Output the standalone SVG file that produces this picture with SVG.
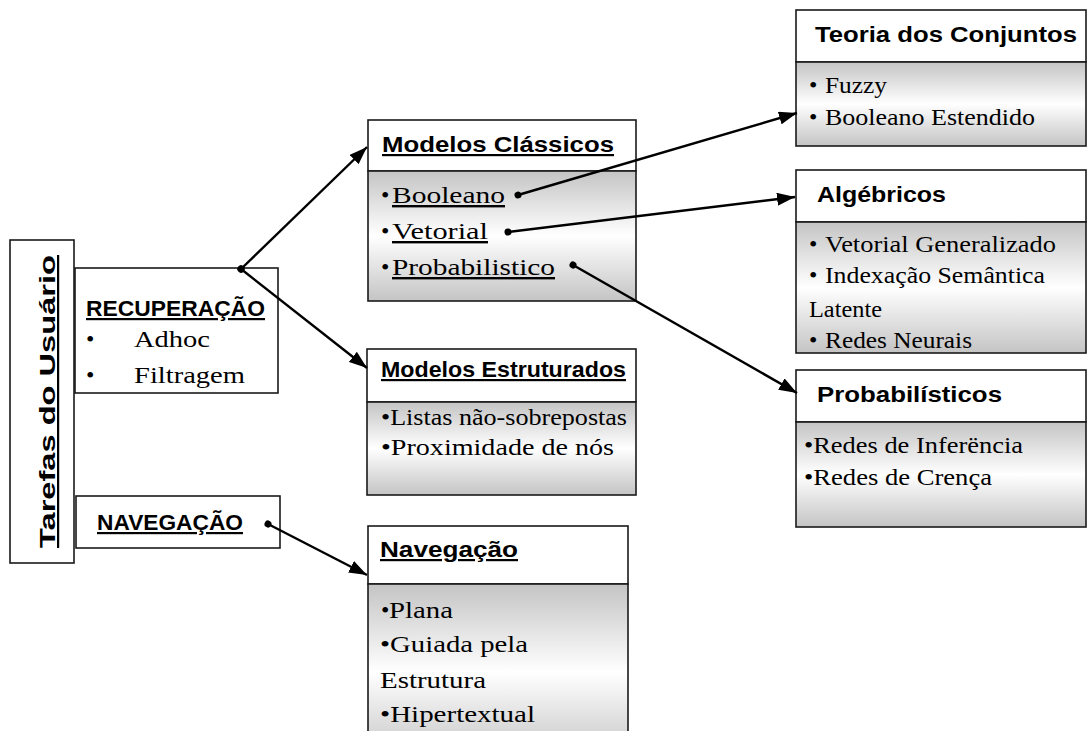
<svg xmlns="http://www.w3.org/2000/svg" width="1089" height="731" viewBox="0 0 1089 731">
  <defs>
    <linearGradient id="body" x1="0" y1="0" x2="0" y2="1">
      <stop offset="0" stop-color="#c4c4c4"/>
      <stop offset="0.5" stop-color="#ffffff"/>
      <stop offset="1" stop-color="#c4c4c4"/>
    </linearGradient>
    <marker id="arrow" markerUnits="userSpaceOnUse" markerWidth="19" markerHeight="13" refX="18" refY="6.5" orient="auto">
      <path d="M0,0 L18,6.5 L0,13 Z" fill="#000"/>
    </marker>
    <marker id="dot" markerUnits="userSpaceOnUse" markerWidth="8" markerHeight="8" refX="4" refY="4" orient="auto">
      <circle cx="4" cy="4" r="3.5" fill="#000"/>
    </marker>
  </defs>
  <style>
    .box { fill: #fff; stroke: #1a1a1a; stroke-width: 1.6; }
    .bodybox { fill: url(#body); stroke: #1a1a1a; stroke-width: 1.6; }
    .hd { font-family: "Liberation Sans", Arial, sans-serif; font-weight: bold; font-size: 22px; fill: #000; }
    .u { text-decoration: underline; }
    .tx { font-family: "Liberation Serif", "Times New Roman", serif; font-size: 24px; fill: #000; }
    .conn { stroke: #000; stroke-width: 2.4; fill: none; marker-start: url(#dot); marker-end: url(#arrow); }
  </style>
  <rect width="1089" height="731" fill="#fff"/>

  <g id="tarefas">
    <rect class="box" x="10" y="240" width="64" height="323"/>
    <text class="hd u" transform="translate(55,548) rotate(-90)" x="0" y="0" font-size="32" textLength="293" lengthAdjust="spacingAndGlyphs">Tarefas do Usuário</text>
  </g>

  <g id="recuperacao">
    <rect class="box" x="75" y="268" width="203" height="125"/>
    <text class="hd u" x="86" y="316" font-size="21" textLength="179" lengthAdjust="spacingAndGlyphs">RECUPERAÇÃO</text>
    <text class="tx" x="86" y="347" font-size="26">•</text>
    <text class="tx" x="134" y="347" textLength="76" lengthAdjust="spacingAndGlyphs">Adhoc</text>
    <text class="tx" x="86" y="383" font-size="26">•</text>
    <text class="tx" x="134" y="383" textLength="111" lengthAdjust="spacingAndGlyphs">Filtragem</text>
  </g>

  <g id="navegacao-tarefa">
    <rect class="box" x="76" y="496" width="204" height="52"/>
    <text class="hd u" x="97" y="530" font-size="21" textLength="146" lengthAdjust="spacingAndGlyphs">NAVEGAÇÃO</text>
  </g>

  <g id="modelos-classicos">
    <rect class="box" x="368" y="120" width="268" height="51"/>
    <rect class="bodybox" x="368" y="171" width="268" height="130"/>
    <text class="hd u" x="382" y="152" font-size="23" textLength="232" lengthAdjust="spacingAndGlyphs">Modelos Clássicos</text>
    <text class="tx" x="381" y="203" font-size="25">•</text>
    <text class="tx u" x="392" y="203" font-size="25" textLength="113" lengthAdjust="spacingAndGlyphs">Booleano</text>
    <text class="tx" x="381" y="239" font-size="25">•</text>
    <text class="tx u" x="392" y="239" font-size="25" textLength="96" lengthAdjust="spacingAndGlyphs">Vetorial</text>
    <text class="tx" x="381" y="275" font-size="25">•</text>
    <text class="tx u" x="392" y="275" font-size="25" textLength="163" lengthAdjust="spacingAndGlyphs">Probabilistico</text>
  </g>

  <g id="modelos-estruturados">
    <rect class="box" x="367" y="349" width="269" height="53"/>
    <rect class="bodybox" x="367" y="402" width="269" height="93"/>
    <text class="hd u" x="381" y="377" font-size="23" textLength="245" lengthAdjust="spacingAndGlyphs">Modelos Estruturados</text>
    <text class="tx" x="381" y="425" textLength="246" lengthAdjust="spacingAndGlyphs">•Listas não-sobrepostas</text>
    <text class="tx" x="381" y="455" textLength="233" lengthAdjust="spacingAndGlyphs">•Proximidade de nós</text>
  </g>

  <g id="navegacao">
    <rect class="box" x="368" y="526" width="260" height="58"/>
    <rect class="bodybox" x="368" y="584" width="260" height="176"/>
    <text class="hd u" x="380" y="557" font-size="22" textLength="138" lengthAdjust="spacingAndGlyphs">Navegação</text>
    <text class="tx" x="381" y="618" font-size="14">•</text>
    <text class="tx" x="389" y="618" textLength="64" lengthAdjust="spacingAndGlyphs">Plana</text>
    <text class="tx" x="380" y="652" textLength="148" lengthAdjust="spacingAndGlyphs">•Guiada pela</text>
    <text class="tx" x="380" y="688" textLength="106" lengthAdjust="spacingAndGlyphs">Estrutura</text>
    <text class="tx" x="380" y="722" textLength="155" lengthAdjust="spacingAndGlyphs">•Hipertextual</text>
  </g>

  <g id="teoria-conjuntos">
    <rect class="box" x="796" y="10" width="290" height="52"/>
    <rect class="bodybox" x="796" y="62" width="290" height="84"/>
    <text class="hd" x="815" y="42" textLength="262" lengthAdjust="spacingAndGlyphs">Teoria dos Conjuntos</text>
    <text class="tx" x="809" y="93">•</text>
    <text class="tx" x="825" y="93" textLength="62" lengthAdjust="spacingAndGlyphs">Fuzzy</text>
    <text class="tx" x="809" y="125">•</text>
    <text class="tx" x="825" y="125" textLength="210" lengthAdjust="spacingAndGlyphs">Booleano Estendido</text>
  </g>

  <g id="algebricos">
    <rect class="box" x="796" y="170" width="290" height="52"/>
    <rect class="bodybox" x="796" y="222" width="290" height="131"/>
    <text class="hd" x="817" y="202" textLength="129" lengthAdjust="spacingAndGlyphs">Algébricos</text>
    <text class="tx" x="809" y="252">•</text>
    <text class="tx" x="825" y="252" textLength="231" lengthAdjust="spacingAndGlyphs">Vetorial Generalizado</text>
    <text class="tx" x="809" y="283">•</text>
    <text class="tx" x="825" y="283" textLength="220" lengthAdjust="spacingAndGlyphs">Indexação Semântica</text>
    <text class="tx" x="809" y="317" textLength="73" lengthAdjust="spacingAndGlyphs">Latente</text>
    <text class="tx" x="809" y="348">•</text>
    <text class="tx" x="825" y="348" textLength="147" lengthAdjust="spacingAndGlyphs">Redes Neurais</text>
  </g>

  <g id="probabilisticos">
    <rect class="box" x="796" y="370" width="290" height="52"/>
    <rect class="bodybox" x="796" y="422" width="290" height="105"/>
    <text class="hd" x="817" y="402" textLength="185" lengthAdjust="spacingAndGlyphs">Probabilísticos</text>
    <text class="tx" x="804" y="453" textLength="219" lengthAdjust="spacingAndGlyphs">•Redes de Inferëncia</text>
    <text class="tx" x="804" y="485" textLength="188" lengthAdjust="spacingAndGlyphs">•Redes de Crença</text>
  </g>

  <g id="connectors">
    <line class="conn" x1="241" y1="269" x2="367" y2="147"/>
    <line class="conn" x1="241" y1="269" x2="367" y2="368" stroke-width="3"/>
    <line class="conn" x1="268" y1="524" x2="367" y2="575"/>
    <line class="conn" x1="518" y1="195" x2="797" y2="113"/>
    <line class="conn" x1="508" y1="232" x2="795" y2="197"/>
    <line class="conn" x1="573" y1="265" x2="797" y2="393"/>
  </g>
</svg>
